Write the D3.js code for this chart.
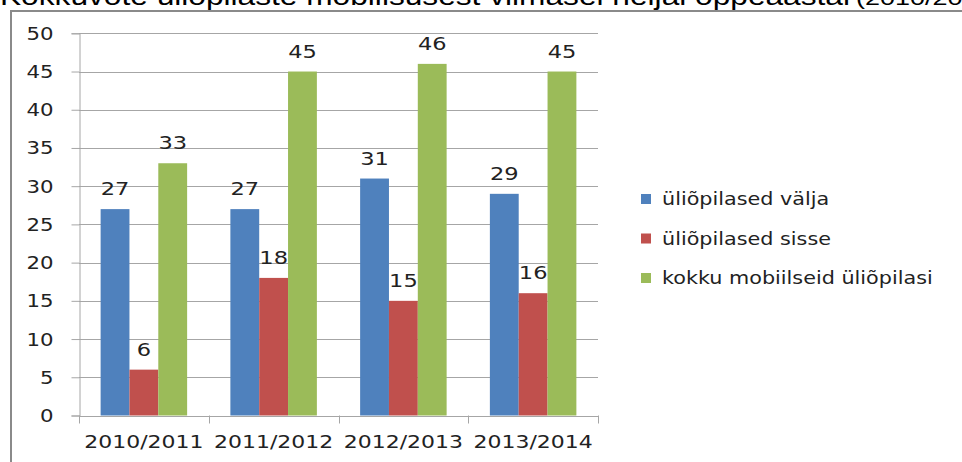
<!DOCTYPE html>
<html>
<head>
<meta charset="utf-8">
<script src="https://cdn.jsdelivr.net/npm/d3@7"></script>
<style>
  html, body { margin: 0; padding: 0; background: #fff; }
  svg { display: block; }
</style>
</head>
<body>
<svg id="chart" width="962" height="462"></svg>
<script>
// ---- data ----
const categories = ["2010/2011", "2011/2012", "2012/2013", "2013/2014"];
const seriesNames = ["üliõpilased välja", "üliõpilased sisse", "kokku mobiilseid üliõpilasi"];
const valjaValues = [27, 27, 31, 29];
const sisseValues = [6, 18, 15, 16];
const kokkuValues = [33, 45, 46, 45];
const yTicks = [0, 5, 10, 15, 20, 25, 30, 35, 40, 45, 50];
const titleMain = "Kokkuvõte üliõpilaste mobiilsusest viimasel neljal õppeaastal";
const titleSub = "(2010/2014)";

const colors = ["#4F81BD", "#C0504D", "#9BBB59"];
const seriesValues = [valjaValues, sisseValues, kokkuValues];

(function () {
const svg = d3.select("#chart");
const SX = 1.25; // horizontal text stretch
const fontNum = "DejaVu Sans";

// frame
svg.append("path")
  .attr("d", "M11,462 L11,11 L962,11")
  .attr("fill", "none").attr("stroke", "#8a8a8a").attr("stroke-width", 2);

// title (cut off at top, as in the reference)
svg.append("text")
  .attr("x", 0).attr("y", 5)
  .attr("font-family", "Liberation Sans, Arial, sans-serif")
  .attr("font-size", 26)
  .attr("textLength", 850).attr("lengthAdjust", "spacingAndGlyphs")
  .attr("fill", "#000")
  .text(titleMain);
svg.append("text")
  .attr("transform", "translate(856,5) scale(1.35,1)")
  .attr("font-family", "Liberation Sans, Arial, sans-serif")
  .attr("font-size", 20)
  .attr("fill", "#000")
  .text(titleSub);

const pLeft = 79, pRight = 598, pTop = 33.3, pBottom = 415.5;

const x = d3.scaleBand().domain(categories).range([pLeft, pRight]).paddingInner(0).paddingOuter(0);
const inner = d3.scaleBand().domain(d3.range(3)).range([0, x.bandwidth()])
  .paddingInner(0).paddingOuter(0.75);
const y = d3.scaleLinear().domain([0, 50]).range([pBottom, pTop]);

// gridlines
svg.append("g")
  .selectAll("line").data(yTicks.filter(d => d > 0)).join("line")
  .attr("x1", pLeft).attr("x2", pRight)
  .attr("y1", d => Math.round(y(d)) + 0.5).attr("y2", d => Math.round(y(d)) + 0.5)
  .attr("stroke", "#a6a6a6").attr("stroke-width", 1);

// y axis
const yAxis = svg.append("g")
  .attr("transform", `translate(${pLeft + 0.5},0)`)
  .call(d3.axisLeft(y).tickValues(yTicks).tickSize(8).tickPadding(0).tickFormat(d3.format("d")));
yAxis.select(".domain").attr("stroke", "#a6a6a6");
yAxis.selectAll(".tick line").attr("stroke", "#a6a6a6");
yAxis.selectAll(".tick text")
  .attr("x", null).attr("dy", null)
  .attr("font-family", fontNum).attr("font-size", 17).attr("fill", "#222")
  .attr("text-anchor", "end")
  .attr("transform", `translate(-26,6) scale(${SX},1)`);

// bars
const groups = svg.append("g").selectAll("g").data(seriesValues).join("g")
  .attr("fill", (d, i) => colors[i]);
groups.selectAll("rect").data((vals, si) => vals.map((v, ci) => ({ v, ci, si }))).join("rect")
  .attr("x", d => x(categories[d.ci]) + inner(d.si))
  .attr("width", inner.bandwidth())
  .attr("y", d => y(d.v))
  .attr("height", d => y(0) - y(d.v));

// data labels
svg.append("g").selectAll("text")
  .data(seriesValues.flatMap((vals, si) => vals.map((v, ci) => ({ v, ci, si }))))
  .join("text")
  .attr("transform", d => `translate(${x(categories[d.ci]) + inner(d.si) + inner.bandwidth() / 2},${y(d.v) - 14}) scale(${SX},1)`)
  .attr("text-anchor", "middle")
  .attr("font-family", fontNum).attr("font-size", 18).attr("fill", "#222")
  .text(d => d.v);

// x axis
const xAxis = svg.append("g")
  .attr("transform", `translate(0,${pBottom + 0.5})`)
  .call(d3.axisBottom(x).tickSize(0).tickSizeOuter(0));
xAxis.select(".domain").attr("stroke", "#a6a6a6");
xAxis.selectAll(".tick text")
  .attr("y", null).attr("dy", null)
  .attr("font-family", fontNum).attr("font-size", 18).attr("fill", "#222")
  .attr("transform", `translate(0,32) scale(1.22,1)`);
// category boundary ticks
svg.append("g").selectAll("line")
  .data(d3.range(categories.length + 1))
  .join("line")
  .attr("x1", i => Math.round(pLeft + i * x.bandwidth()) + 0.5)
  .attr("x2", i => Math.round(pLeft + i * x.bandwidth()) + 0.5)
  .attr("y1", pBottom).attr("y2", pBottom + 8)
  .attr("stroke", "#a6a6a6");

// legend
const legend = svg.append("g").selectAll("g").data(seriesNames).join("g")
  .attr("transform", (d, i) => `translate(641,${194 + i * 39.5})`);
legend.append("rect").attr("width", 10).attr("height", 10).attr("fill", (d, i) => colors[i]);
legend.append("text")
  .attr("transform", `translate(21,11) scale(1.22,1)`)
  .attr("font-family", fontNum).attr("font-size", 17).attr("fill", "#222")
  .text(d => d);
})();
</script>
</body>
</html>
